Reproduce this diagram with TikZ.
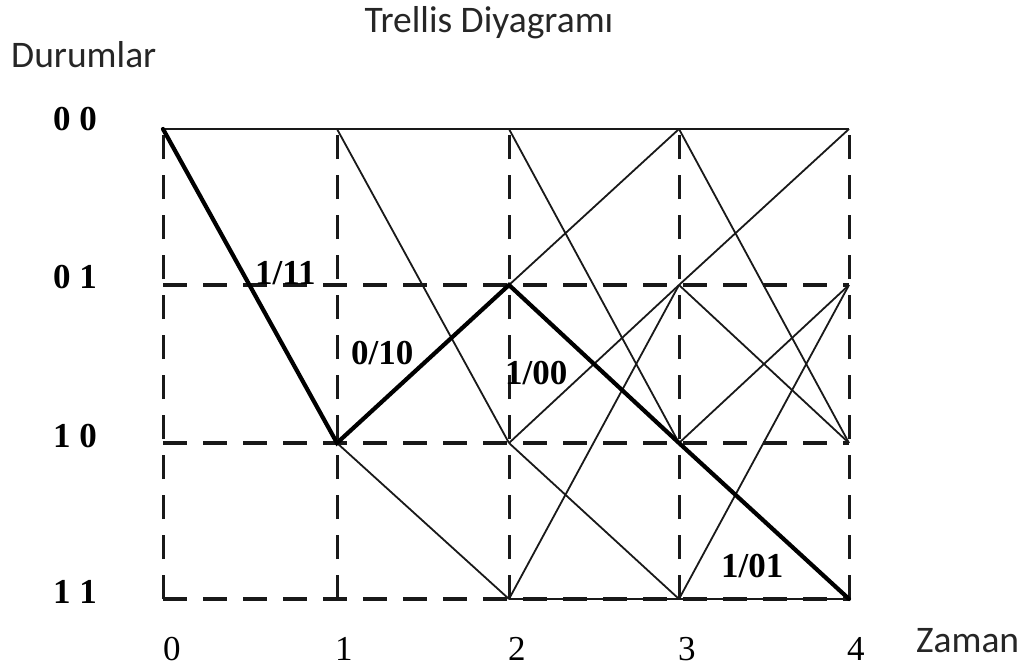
\documentclass[tikz,border=0pt]{standalone}
\usepackage{fontspec}
\setmainfont{Liberation Serif}
\newfontfamily\calib{Carlito}
\begin{document}
\begin{tikzpicture}[x=1pt,y=-1pt,
  gridv/.style={line width=3pt, dash pattern=on 24pt off 16pt, black!90},
  gridh/.style={line width=3.8pt, dash pattern=on 24pt off 16pt, black!90},
  branch/.style={line width=1.8pt, black!90},
  hot/.style={line width=4.2pt, line cap=round, black},
  edgelbl/.style={font=\fontsize{35}{40}\selectfont\bfseries, inner sep=0pt, anchor=base west},
  statelbl/.style={font=\fontsize{35}{40}\selectfont\bfseries, inner sep=0pt, anchor=base west},
  timelbl/.style={font=\fontsize{35}{40}\selectfont, inner sep=0pt, anchor=base west},
  sanslbl/.style={font=\calib\fontsize{37.5}{44}\selectfont, inner sep=0pt, text=black!85}]
\useasboundingbox (0,0) rectangle (1034,669);
\foreach \i/\x in {0/163,1/337,2/509,3/679,4/849}
  \foreach \s/\y in {a/129,b/285,c/443,d/599}
    \coordinate (\s\i) at (\x,\y);
% dashed grid
\foreach \i in {0,...,4} \draw[gridv] (d\i) -- (a\i);
\draw[gridh] (b0) -- (b4);
\draw[gridh] (c0) -- (c4);
\draw[gridh] (d0) -- (d4);
% solid horizontals
\draw[branch] (a0) -- (a4);
\draw[branch] (d2) -- (d4);
% stage 1
\draw[branch] (a1) -- (c2);
\draw[branch] (c1) -- (d2);
% stage 2
\draw[branch] (a2) -- (c3);
\draw[branch] (b2) -- (a3);
\draw[branch] (c2) -- (b3);
\draw[branch] (c2) -- (d3);
\draw[branch] (d2) -- (b3);
% stage 3
\draw[branch] (a3) -- (c4);
\draw[branch] (b3) -- (a4);
\draw[branch] (b3) -- (c4);
\draw[branch] (c3) -- (b4);
\draw[branch] (d3) -- (b4);
% bold path
\draw[hot] (a0) -- (c1) -- (b2) -- (c3) -- (d4);
% titles
\node[sanslbl, anchor=base] (title) at (489,33) {Trellis Diyagramı};
\node[sanslbl, anchor=base west] (yaxis) at (11,67) {Durumlar};
\node[sanslbl, anchor=base west] (xaxis) at (916,652) {Zaman};
% state labels
\node[statelbl] (st00) at (53,130) {0 0};
\node[statelbl] (st01) at (53,288) {0 1};
\node[statelbl] (st10) at (53,447) {1 0};
\node[statelbl] (st11) at (53,603) {1 1};
% time labels
\node[timelbl] (t0) at (163,660) {0};
\node[timelbl] (t1) at (335,660) {1};
\node[timelbl] (t2) at (508,660) {2};
\node[timelbl] (t3) at (678,660) {3};
\node[timelbl] (t4) at (847,660) {4};
% edge labels
\node[edgelbl] (l1) at (255,284) {1/11};
\node[edgelbl] (l2) at (351,364) {0/10};
\node[edgelbl] (l3) at (505,384) {1/00};
\node[edgelbl] (l4) at (721,577) {1/01};
\end{tikzpicture}
\end{document}
